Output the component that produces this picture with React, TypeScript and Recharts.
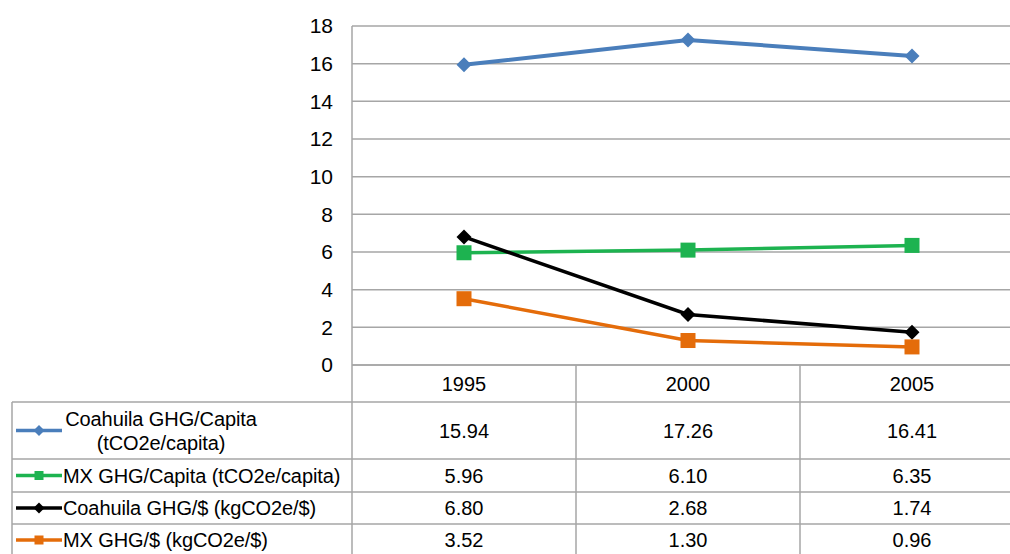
import React from 'react';
import { LineChart, Line, XAxis, YAxis, CartesianGrid } from 'recharts';

// Years shown on the category axis and as table headers
const categories = ['1995', '2000', '2005'];

// Series values
const coahuilaPerCapita = [15.94, 17.26, 16.41];
const mxPerCapita = [5.96, 6.1, 6.35];
const coahuilaPerDollar = [6.8, 2.68, 1.74];
const mxPerDollar = [3.52, 1.3, 0.96];

// Value axis ticks
const yTicks = [0, 2, 4, 6, 8, 10, 12, 14, 16, 18];

type Shape = 'diamond' | 'square';

interface SeriesDef {
  key: string;
  label: string[];
  values: number[];
  color: string;
  shape: Shape;
  lineWidth: number;
  markerSize: number;
}

const series: SeriesDef[] = [
  {
    key: 'coahuilaPerCapita',
    label: ['Coahuila GHG/Capita', '(tCO2e/capita)'],
    values: coahuilaPerCapita,
    color: '#4a7ebb',
    shape: 'diamond',
    lineWidth: 4,
    markerSize: 7.5,
  },
  {
    key: 'mxPerCapita',
    label: ['MX GHG/Capita (tCO2e/capita)'],
    values: mxPerCapita,
    color: '#1db350',
    shape: 'square',
    lineWidth: 3.5,
    markerSize: 7.5,
  },
  {
    key: 'coahuilaPerDollar',
    label: ['Coahuila GHG/$ (kgCO2e/$)'],
    values: coahuilaPerDollar,
    color: '#000000',
    shape: 'diamond',
    lineWidth: 3.5,
    markerSize: 7.5,
  },
  {
    key: 'mxPerDollar',
    label: ['MX GHG/$ (kgCO2e/$)'],
    values: mxPerDollar,
    color: '#e46c0a',
    shape: 'square',
    lineWidth: 3.5,
    markerSize: 7.5,
  },
];

const data = categories.map((year, i) => {
  const row: Record<string, string | number> = { year };
  series.forEach((s) => {
    row[s.key] = s.values[i];
  });
  return row;
});

// Layout
const CHART_W = 1030;
const CHART_H = 560;
const MARGIN = { top: 26, right: 6, bottom: 0, left: 0 };
const YAXIS_W = 352;
const XAXIS_H = 195;
const PLOT_W = CHART_W - MARGIN.left - MARGIN.right - YAXIS_W;
const COL_W = PLOT_W / categories.length;
const TABLE_LEFT = 12;
const HEADER_H = 37;
const ROW_H = [57, 33, 32, 32];
const GRID = '#a6a6a6';
const FONT = "'Liberation Sans', Arial, sans-serif";
const FONT_SIZE = 20;

function Marker({ cx, cy, color, shape, r }: { cx: number; cy: number; color: string; shape: Shape; r: number }) {
  if (shape === 'diamond') {
    return <polygon points={`${cx},${cy - r} ${cx + r},${cy} ${cx},${cy + r} ${cx - r},${cy}`} fill={color} />;
  }
  return <rect x={cx - r} y={cy - r} width={r * 2} height={r * 2} fill={color} />;
}

function rowTops(top: number): number[] {
  const tops: number[] = [];
  let y = top + HEADER_H;
  ROW_H.forEach((h) => {
    tops.push(y);
    y += h;
  });
  return tops;
}

// Each x-axis tick renders one column of the data table; the first one also draws the legend column and row rules.
function TableColumn(props: any) {
  const { x, y, payload, index } = props;
  const tops = rowTops(y);
  const bottom = tops[tops.length - 1] + ROW_H[ROW_H.length - 1];
  const colRight = x + COL_W / 2;
  const colLeft = x - COL_W / 2;
  const catIdx = categories.indexOf(String(payload.value));

  return (
    <g fontFamily={FONT} fontSize={FONT_SIZE} fill="#000">
      <line x1={colRight} y1={y} x2={colRight} y2={bottom} stroke={GRID} strokeWidth={1.5} />
      <text x={x} y={y + HEADER_H / 2} textAnchor="middle" dominantBaseline="central" fill="#000">
        {payload.value}
      </text>
      {series.map((s, r) => (
        <text
          key={s.key}
          x={x}
          y={tops[r] + ROW_H[r] / 2}
          textAnchor="middle"
          dominantBaseline="central"
          fill="#000"
        >
          {s.values[catIdx].toFixed(2)}
        </text>
      ))}
      {index === 0 && (
        <g>
          <line x1={colLeft} y1={y} x2={colLeft} y2={bottom} stroke={GRID} strokeWidth={1.5} />
          <line x1={TABLE_LEFT} y1={tops[0]} x2={TABLE_LEFT} y2={bottom} stroke={GRID} strokeWidth={1.5} />
          {tops.map((t, r) => (
            <line key={r} x1={TABLE_LEFT} y1={t} x2={CHART_W} y2={t} stroke={GRID} strokeWidth={1.5} />
          ))}
          {series.map((s, r) => {
            const cy = tops[r] + ROW_H[r] / 2;
            const keyX1 = TABLE_LEFT + 4;
            const keyX2 = TABLE_LEFT + 50;
            const textX = TABLE_LEFT + 51;
            const multi = s.label.length > 1;
            return (
              <g key={s.key} letterSpacing={-0.1}>
                <line x1={keyX1} y1={cy} x2={keyX2} y2={cy} stroke={s.color} strokeWidth={3.5} />
                <Marker cx={(keyX1 + keyX2) / 2} cy={cy} color={s.color} shape={s.shape} r={s.shape === 'diamond' ? 5.5 : 4.5} />
                {multi ? (
                  s.label.map((ln, li) => (
                    <text
                      key={li}
                      x={textX + 98}
                      y={cy + (li - (s.label.length - 1) / 2) * 24}
                      textAnchor="middle"
                      dominantBaseline="central"
                      fill="#000"
                    >
                      {ln}
                    </text>
                  ))
                ) : (
                  <text x={textX} y={cy} textAnchor="start" dominantBaseline="central" fill="#000">
                    {s.label[0]}
                  </text>
                )}
              </g>
            );
          })}
        </g>
      )}
    </g>
  );
}

export default function App() {
  return (
    <div
      style={{
        position: 'fixed',
        left: 0,
        top: 0,
        width: 1010,
        height: 554,
        overflow: 'hidden',
        background: '#fff',
      }}
    >
      <LineChart width={CHART_W} height={CHART_H} data={data} margin={MARGIN}>
        <CartesianGrid vertical={false} stroke={GRID} strokeWidth={1.5} />
        <XAxis
          dataKey="year"
          scale="band"
          interval={0}
          height={XAXIS_H}
          tickSize={0}
          tickMargin={0}
          tickLine={false}
          axisLine={{ stroke: GRID, strokeWidth: 1.5 }}
          tick={<TableColumn />}
        />
        <YAxis
          width={YAXIS_W}
          domain={[0, 18]}
          ticks={yTicks}
          interval={0}
          tickLine={false}
          tickSize={0}
          tickMargin={19}
          axisLine={{ stroke: GRID, strokeWidth: 1.5 }}
          tick={{ fill: '#000', fontSize: 21, fontFamily: FONT }}
        />
        {series.map((s) => (
          <Line
            key={s.key}
            dataKey={s.key}
            type="linear"
            stroke={s.color}
            strokeWidth={s.lineWidth}
            isAnimationActive={false}
            activeDot={false}
            dot={(p: any) => (
              <Marker
                key={`${s.key}-${p.index}`}
                cx={p.cx}
                cy={p.cy}
                color={s.color}
                shape={s.shape}
                r={s.markerSize}
              />
            )}
          />
        ))}
      </LineChart>
    </div>
  );
}
